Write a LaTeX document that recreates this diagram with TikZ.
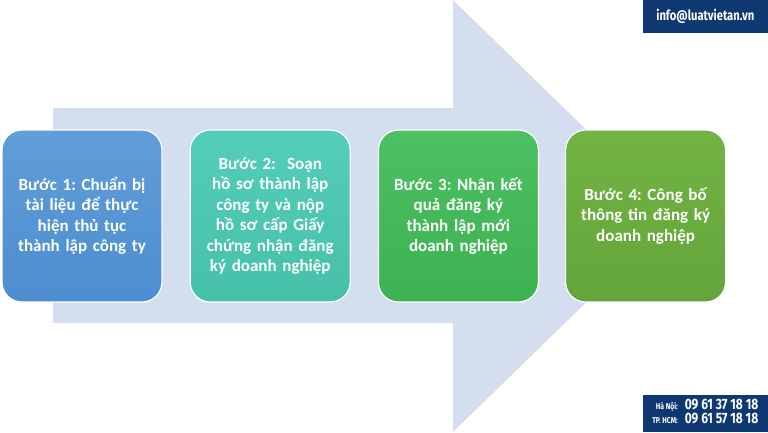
\documentclass[tikz,border=0pt]{standalone}
\usepackage{fontspec}
\setmainfont{Carlito}
\newfontfamily\contactfont[FakeStretch=0.8]{Fira Sans}
\usetikzlibrary{positioning}

\definecolor{arrowbg}{RGB}{211,223,239}
\definecolor{navy}{RGB}{14,56,114}
\definecolor{blueA}{RGB}{95,158,216}
\definecolor{blueB}{RGB}{78,141,207}
\definecolor{tealA}{RGB}{84,206,186}
\definecolor{tealB}{RGB}{70,192,168}
\definecolor{greenA}{RGB}{76,192,98}
\definecolor{greenB}{RGB}{61,178,82}
\definecolor{oliveA}{RGB}{114,179,68}
\definecolor{oliveB}{RGB}{99,165,57}

\tikzset{
  stepbox/.style={rounded corners=20pt, draw=white, line width=1.2pt,
    minimum width=160pt, minimum height=172pt, text width=142pt,
    inner sep=0pt, align=center, text=white,
    font=\fontsize{17}{20.5}\selectfont\bfseries\frenchspacing},
  contact/.style={fill=navy, text=white, inner sep=0pt,
    font=\contactfont\bfseries},
}

\begin{document}
\begin{tikzpicture}[x=1pt,y=-1pt]
				\useasboundingbox (0,0) rectangle (768,432);
				% big arrow behind the steps
				\fill[arrowbg] (53,108) -- (453,108) -- (453,0) -- (675,216)
					-- (453,432) -- (453,323) -- (53,323) -- cycle;

				\node[stepbox, top color=blueA, bottom color=blueB](step1) at (82,216)
					{Bước 1: Chuẩn bị\\ tài liệu để thực\\ hiện thủ tục\\ thành lập công ty};
				\node[stepbox, top color=tealA, bottom color=tealB, right=27pt of step1](step2)
					{Bước 2:\ \ Soạn\\ hồ sơ thành lập\\ công ty và nộp\\ hồ sơ cấp Giấy\\ chứng nhận đăng\\ ký doanh nghiệp};
				\node[stepbox, top color=greenA, bottom color=greenB, right=27pt of step2](step3)
					{Bước 3: Nhận kết\\ quả đăng ký\\ thành lập mới\\ doanh nghiệp};
				\node[stepbox, top color=oliveA, bottom color=oliveB, right=26pt of step3](step4)
					{Bước 4: Công bố\\ thông tin đăng ký\\ doanh nghiệp};

				\node[contact, minimum width=125pt, minimum height=33pt, anchor=north east,
					font=\contactfont\bfseries\fontsize{14}{16}\selectfont](mail) at (768,0)
					{info@luatvietan.vn};
				\node[contact, minimum width=125pt, minimum height=37pt, anchor=south east,
					font=\contactfont\bfseries\fontsize{15}{14}\selectfont](phone) at (768,432)
					{\begin{tabular}{@{}r@{\hspace{7pt}}l@{}}
					{\fontsize{8.5}{10}\selectfont Hà Nội:} & 09 61 37 18 18\\
					{\fontsize{8.5}{10}\selectfont TP. HCM:} & 09 61 57 18 18
					\end{tabular}};
			\end{tikzpicture}
\end{document}
